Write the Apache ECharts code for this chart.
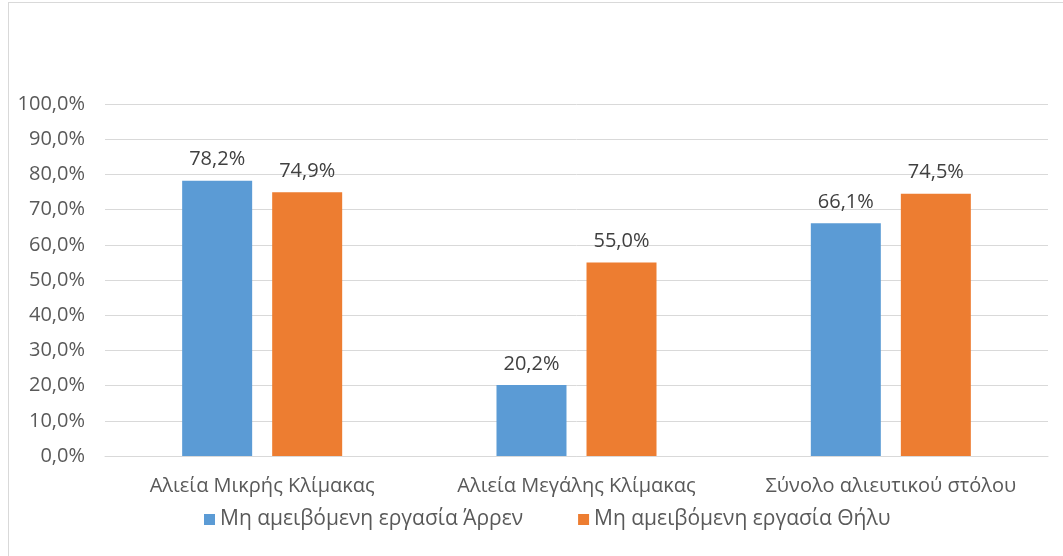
<!DOCTYPE html>
<html>
<head>
<meta charset="utf-8">
<script src="https://cdn.jsdelivr.net/npm/echarts@6/dist/echarts.min.js"></script>
<style>
  html, body { margin: 0; padding: 0; background: #fff; }
  #chart { width: 1063px; height: 556px; }
  #frame { position: absolute; left: 8px; top: 2px; width: 1060px; height: 560px; border: 1px solid #d9d9d9; pointer-events: none; }
</style>
</head>
<body>
<div id="chart"></div>
<div id="frame"></div>
<script>
  // κατηγορίες και τιμές (%)
  const categories = ['Αλιεία Μικρής Κλίμακας', 'Αλιεία Μεγάλης Κλίμακας', 'Σύνολο αλιευτικού στόλου'];
  const seriesNames = ['Μη αμειβόμενη εργασία Άρρεν', 'Μη αμειβόμενη εργασία Θήλυ'];
  const maleValues = [78.2, 20.2, 66.1];
  const femaleValues = [74.9, 55.0, 74.5];

  const chart = echarts.init(document.getElementById('chart'));
  const fontFamily = '"Open Sans", "Noto Sans", sans-serif';

  const fmt = v => v.toFixed(1).replace('.', ',') + '%';

  const labelStyle = {
    show: true,
    position: 'top',
    distance: 11,
    color: '#404040',
    fontSize: 20,
    fontFamily: fontFamily,
    formatter: p => fmt(p.value)
  };

  chart.setOption({
    animation: false,
    textStyle: { fontFamily: fontFamily },
    grid: { left: 105, right: 15, top: 104, bottom: 100 },
    legend: {
      data: seriesNames,
      bottom: 21,
      left: 199,
      itemWidth: 11,
      itemHeight: 11,
      itemGap: 55,
      icon: 'rect',
      textStyle: { color: '#595959', fontSize: 21, fontFamily: fontFamily }
    },
    xAxis: {
      type: 'category',
      data: categories,
      axisLine: { lineStyle: { color: '#d9d9d9' } },
      axisTick: { show: false },
      axisLabel: { color: '#595959', fontSize: 20, margin: 20, interval: 0, hideOverlap: false, fontFamily: fontFamily }
    },
    yAxis: {
      type: 'value',
      min: 0,
      max: 100,
      interval: 10,
      axisLine: { show: false },
      axisTick: { show: false },
      splitLine: { lineStyle: { color: '#d9d9d9' } },
      axisLabel: { color: '#595959', fontSize: 20, margin: 20, fontFamily: fontFamily, formatter: v => fmt(v) }
    },
    series: [
      {
        name: seriesNames[0],
        type: 'bar',
        data: maleValues,
        barWidth: 70,
        barGap: '28.6%',
        itemStyle: { color: '#5b9bd5' },
        label: labelStyle
      },
      {
        name: seriesNames[1],
        type: 'bar',
        data: femaleValues,
        barWidth: 70,
        itemStyle: { color: '#ed7d31' },
        label: labelStyle
      }
    ]
  });
</script>
</body>
</html>
